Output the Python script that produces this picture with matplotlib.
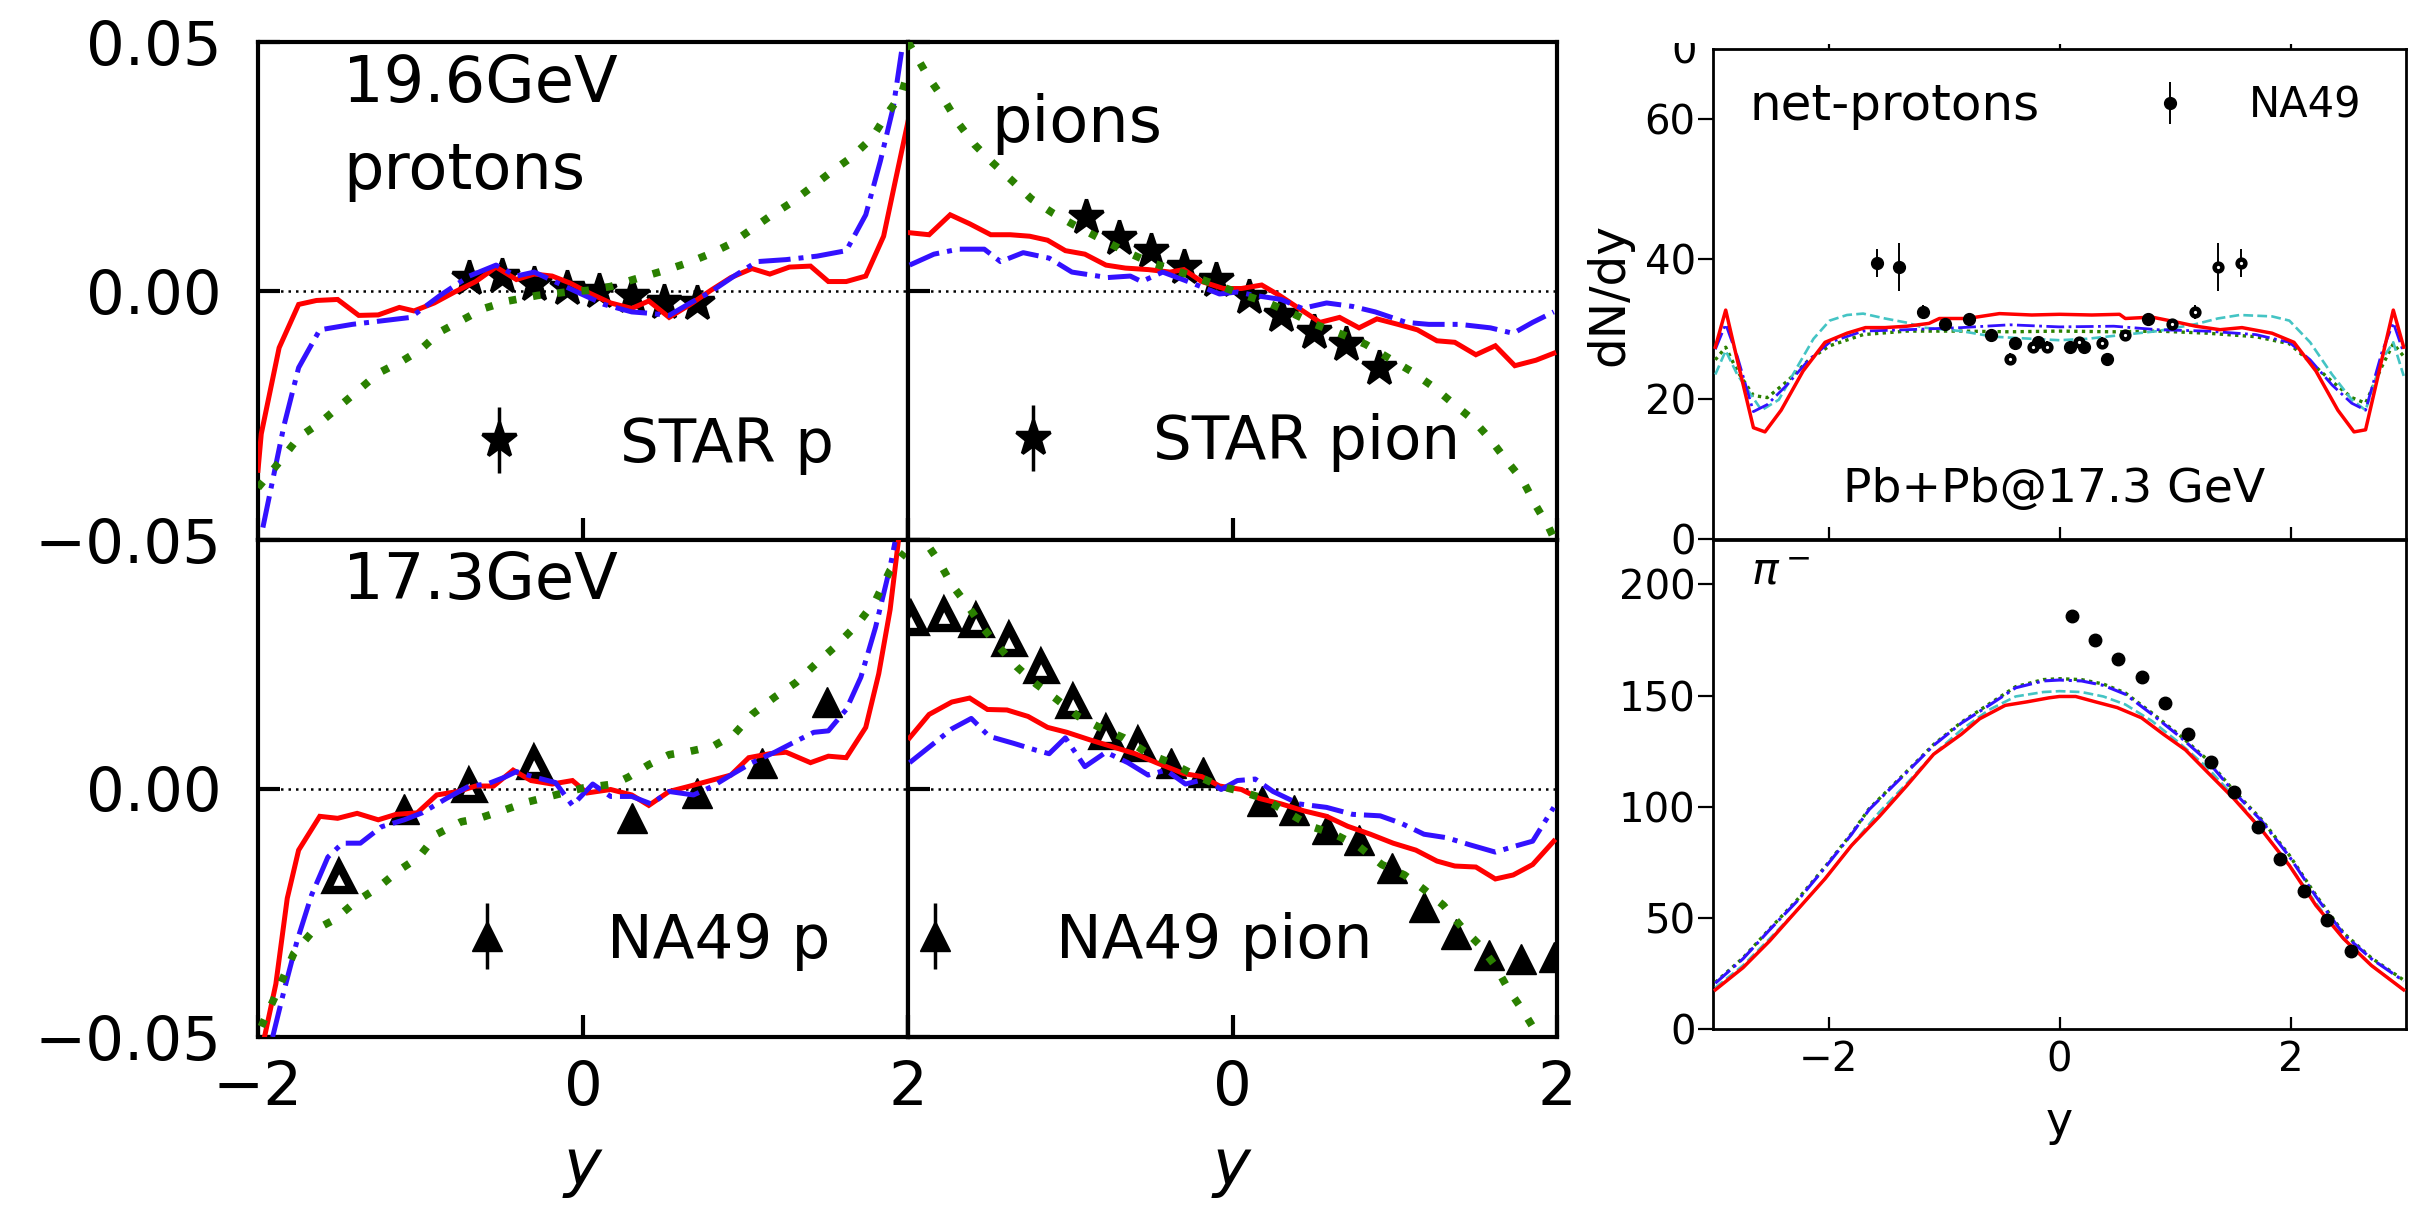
import matplotlib
matplotlib.use("Agg")
import matplotlib.pyplot as plt
from matplotlib.container import ErrorbarContainer
from matplotlib.legend_handler import HandlerErrorbar
from matplotlib.transforms import Bbox, TransformedBbox

plt.rcParams['font.family'] = ['DejaVu Sans']
plt.rcParams['mathtext.fontset'] = 'dejavusans'

# ---------------- data: left group (19.6 GeV protons) ----------------
tl_red_x = [-2.0, -1.98, -1.87, -1.75, -1.64, -1.51, -1.38, -1.26, -1.13, -1.04, -0.915, -0.79, -0.66, -0.535, -0.41,
            -0.30, -0.19, -0.08, 0.025, 0.17, 0.30, 0.405, 0.53, 0.66, 0.785, 0.91, 1.04, 1.15, 1.27, 1.40,
            1.51, 1.62, 1.74, 1.85, 1.92, 2.0]
tl_red_v = [-0.036, -0.0287, -0.0114, -0.0027, -0.0019, -0.0017, -0.0049, -0.0048, -0.0033, -0.0040, -0.0024, -0.0002,
            0.0019, 0.0048, 0.0023, 0.0034, 0.0030, 0.0016, -0.0002, -0.0024, -0.0035, -0.0020, -0.0053, -0.0027,
            0.0001, 0.0027, 0.0045, 0.0034, 0.0048, 0.0050, 0.0019, 0.0019, 0.0030, 0.0110, 0.0218, 0.0340]
tl_blue_x = [-1.97, -1.84, -1.75, -1.62, -1.42, -1.24, -1.06, -0.88, -0.70, -0.535, -0.41, -0.30, -0.155, -0.01,
             0.13, 0.30, 0.42, 0.53, 0.66, 0.785, 0.93, 1.07, 1.25, 1.44, 1.62, 1.74, 1.83, 1.91, 1.96]
tl_blue_v = [-0.0475, -0.027, -0.0154, -0.0078, -0.0067, -0.0060, -0.0053, -0.0009, 0.0030, 0.0052, 0.0030, 0.0038,
             0.0016, -0.0006, -0.0027, -0.0042, -0.0045, -0.0049, -0.0024, -0.0002, 0.0030, 0.0059, 0.0063, 0.0070,
             0.0081, 0.0153, 0.0261, 0.0370, 0.0480]
tl_green_x = [-2.0, -1.855, -1.75, -1.62, -1.49, -1.385, -1.26, -1.11, -1.0, -0.88, -0.73, -0.61, -0.46, -0.28, -0.10,
              0.025, 0.17, 0.31, 0.50, 0.64, 0.785, 0.91, 1.02, 1.15, 1.27, 1.40, 1.53, 1.65, 1.78, 1.87, 1.96, 2.0]
tl_green_v = [-0.0395, -0.0338, -0.0294, -0.0265, -0.0229, -0.0200, -0.0165, -0.0140, -0.0118, -0.0082, -0.0056,
              -0.0035, -0.0020, -0.0009, -0.0002, 0.0001, 0.0009, 0.0023, 0.0041, 0.0056, 0.0075, 0.0095, 0.0120,
              0.0150, 0.0175, 0.0207, 0.0240, 0.0268, 0.0308, 0.0355, 0.0395, 0.0440]
star_p_x = [-0.7, -0.5, -0.3, -0.1, 0.1, 0.3, 0.5, 0.7]
star_p_v = [0.0027, 0.0031, 0.0014, 0.0007, 0.0000, -0.0010, -0.0023, -0.0024]
star_p_e = [0.0005] * 8

# ---------------- 19.6 GeV pions ----------------
tr_red_x = [-1.99, -1.87, -1.74, -1.62, -1.49, -1.37, -1.25, -1.14, -1.03, -0.91, -0.78, -0.66, -0.52, -0.385, -0.30,
            -0.19, -0.055, 0.055, 0.18, 0.29, 0.41, 0.54, 0.66, 0.78, 0.89, 1.02, 1.14, 1.26, 1.37, 1.50,
            1.62, 1.74, 1.87, 1.98]
tr_red_v = [0.0117, 0.0113, 0.0153, 0.0135, 0.0113, 0.0113, 0.0110, 0.0102, 0.0081, 0.0074, 0.0052, 0.0046, 0.0043,
            0.0038, 0.0043, 0.0019, 0.0005, 0.0005, 0.0012, -0.0009, -0.0035, -0.0063, -0.0053, -0.0074, -0.0056,
            -0.0067, -0.0078, -0.0100, -0.0103, -0.0128, -0.0110, -0.0150, -0.0139, -0.0125]
tr_blue_x = [-1.99, -1.84, -1.69, -1.53, -1.43, -1.29, -1.13, -0.99, -0.77, -0.63, -0.56, -0.43, -0.25, -0.08, 0.03,
             0.14, 0.30, 0.43, 0.58, 0.74, 0.88, 1.07, 1.21, 1.40, 1.59, 1.73, 1.85, 1.98]
tr_blue_v = [0.0052, 0.0074, 0.0084, 0.0084, 0.0059, 0.0077, 0.0066, 0.0038, 0.0027, 0.0030, 0.0019, 0.0038, 0.0016,
             -0.0006, -0.0002, -0.0009, -0.0017, -0.0035, -0.0024, -0.0031, -0.0042, -0.0063, -0.0067, -0.0067,
             -0.0074, -0.0085, -0.0063, -0.0042]
tr_green_x = [-2.0, -1.87, -1.77, -1.69, -1.59, -1.48, -1.36, -1.24, -1.11, -0.99, -0.82, -0.67, -0.52, -0.385, -0.25,
              -0.07, 0.08, 0.22, 0.37, 0.51, 0.69, 0.82, 0.97, 1.10, 1.24, 1.36, 1.48, 1.59, 1.69, 1.79, 1.87, 1.95, 2.0]
tr_green_v = [0.0500, 0.0427, 0.0380, 0.0337, 0.0294, 0.0258, 0.0222, 0.0185, 0.0157, 0.0135, 0.0106, 0.0081, 0.0059,
              0.0045, 0.0030, 0.0009, -0.0009, -0.0024, -0.0045, -0.0067, -0.0089, -0.0107, -0.0136, -0.0161,
              -0.0193, -0.0226, -0.0258, -0.0298, -0.0341, -0.0381, -0.0431, -0.0475, -0.0510]
star_pi_x = [-0.9, -0.7, -0.5, -0.3, -0.1, 0.1, 0.3, 0.5, 0.7, 0.9]
star_pi_v = [0.0149, 0.0106, 0.0081, 0.0048, 0.0023, -0.0013, -0.0049, -0.0082, -0.0107, -0.0154]
star_pi_e = [0.0005] * 10

# ---------------- 17.3 GeV protons ----------------
bl_red_x = [-1.96, -1.89, -1.82, -1.75, -1.62, -1.51, -1.39, -1.26, -1.15, -1.02, -0.90, -0.77, -0.66, -0.55, -0.43,
            -0.32, -0.19, -0.065, 0.025, 0.17, 0.30, 0.405, 0.53, 0.66, 0.785, 0.91, 1.02, 1.15, 1.25, 1.40,
            1.51, 1.62, 1.74, 1.82, 1.89, 1.94]
bl_red_v = [-0.0500, -0.0393, -0.0221, -0.0124, -0.0056, -0.0060, -0.0050, -0.0063, -0.0052, -0.0049, -0.0013,
            -0.0006, 0.0005, 0.0005, 0.0037, 0.0016, 0.0009, 0.0016, -0.0009, -0.0002, -0.0013, -0.0034, -0.0006,
            0.0005, 0.0016, 0.0027, 0.0062, 0.0070, 0.0073, 0.0052, 0.0065, 0.0062, 0.0123, 0.0231, 0.0360, 0.0496]
bl_blue_x = [-1.91, -1.84, -1.76, -1.67, -1.57, -1.48, -1.37, -1.24, -1.10, -0.99, -0.84, -0.70, -0.59, -0.48, -0.41,
             -0.30, -0.17, -0.065, 0.06, 0.17, 0.30, 0.42, 0.53, 0.68, 0.80, 0.91, 1.04, 1.18, 1.31, 1.42, 1.51,
             1.62, 1.71, 1.80, 1.89, 1.92]
bl_blue_v = [-0.0500, -0.0407, -0.0307, -0.0214, -0.0138, -0.0110, -0.0110, -0.0077, -0.0063, -0.0049, -0.0020,
             0.0005, 0.0009, 0.0023, 0.0034, 0.0023, 0.0012, -0.0034, 0.0009, -0.0016, -0.0016, -0.0031, -0.0006,
             -0.0013, 0.0005, 0.0027, 0.0052, 0.0073, 0.0095, 0.0113, 0.0116, 0.0159, 0.0224, 0.0324, 0.0446, 0.0496]
bl_green_x = [-1.98, -1.89, -1.78, -1.66, -1.53, -1.40, -1.26, -1.13, -1.01, -0.90, -0.75, -0.64, -0.50, -0.34, -0.17,
              0.0, 0.19, 0.28, 0.405, 0.53, 0.66, 0.80, 0.93, 1.04, 1.18, 1.31, 1.44, 1.56, 1.69, 1.80, 1.89, 1.98]
bl_green_v = [-0.0479, -0.0415, -0.0332, -0.0286, -0.0264, -0.0228, -0.0199, -0.0164, -0.0138, -0.0092, -0.0067,
              -0.0060, -0.0045, -0.0027, -0.0013, 0.0001, 0.0009, 0.0023, 0.0048, 0.0068, 0.0075, 0.0085, 0.0109,
              0.0149, 0.0184, 0.0213, 0.0253, 0.0288, 0.0331, 0.0378, 0.0439, 0.0475]
na49p_fill_x = [-1.1, 0.3, 0.7, 1.1, 1.5]
na49p_fill_v = [-0.0042, -0.0060, -0.0010, 0.0052, 0.0174]
na49p_fill_e = [0.0015, 0.0022, 0.0018, 0.0015, 0.0018]
na49p_open_x = [-1.5, -0.7, -0.3]
na49p_open_v = [-0.0178, 0.0005, 0.0052]
na49p_open_e = [0.0018, 0.0018, 0.0030]

# ---------------- 17.3 GeV pions ----------------
br_red_x = [-1.99, -1.87, -1.73, -1.62, -1.51, -1.39, -1.26, -1.14, -1.02, -0.88, -0.74, -0.60, -0.47, -0.30, -0.19,
            -0.08, 0.055, 0.165, 0.30, 0.44, 0.58, 0.71, 0.85, 0.99, 1.13, 1.26, 1.37, 1.50, 1.62, 1.73, 1.85, 1.98]
br_red_v = [0.0102, 0.0149, 0.0174, 0.0182, 0.0159, 0.0158, 0.0145, 0.0123, 0.0113, 0.0098, 0.0084, 0.0070, 0.0052,
            0.0030, 0.0024, 0.0005, -0.0002, -0.0020, -0.0031, -0.0045, -0.0056, -0.0076, -0.0092, -0.0110, -0.0124,
            -0.0146, -0.0156, -0.0158, -0.0182, -0.0174, -0.0153, -0.0106]
br_blue_x = [-1.99, -1.84, -1.73, -1.61, -1.50, -1.35, -1.21, -1.13, -1.03, -0.91, -0.78, -0.645, -0.52, -0.41, -0.29,
             -0.165, -0.07, 0.03, 0.14, 0.25, 0.41, 0.58, 0.74, 0.91, 1.04, 1.18, 1.32, 1.46, 1.62, 1.73, 1.85, 1.98]
br_blue_v = [0.0052, 0.0091, 0.0120, 0.0141, 0.0105, 0.0091, 0.0077, 0.0070, 0.0102, 0.0044, 0.0073, 0.0052, 0.0027,
             0.0037, 0.0009, 0.0019, -0.0002, 0.0016, 0.0019, -0.0006, -0.0031, -0.0038, -0.0052, -0.0055, -0.0070,
             -0.0092, -0.0099, -0.0113, -0.0128, -0.0117, -0.0106, -0.0038]
br_green_x = [-2.0, -1.9, -1.81, -1.73, -1.63, -1.54, -1.44, -1.33, -1.21, -1.09, -0.95, -0.82, -0.67, -0.52, -0.385,
              -0.23, -0.08, 0.055, 0.19, 0.36, 0.49, 0.63, 0.78, 0.92, 1.06, 1.18, 1.30, 1.41, 1.52, 1.62, 1.70,
              1.79, 1.87, 1.95]
br_green_v = [0.0570, 0.0500, 0.0457, 0.0410, 0.0367, 0.0324, 0.0285, 0.0245, 0.0210, 0.0181, 0.0145, 0.0123, 0.0102,
              0.0070, 0.0052, 0.0027, 0.0005, -0.0006, -0.0020, -0.0052, -0.0077, -0.0092, -0.0117, -0.0153, -0.0174,
              -0.0203, -0.0235, -0.0278, -0.0314, -0.0357, -0.0404, -0.0447, -0.0490, -0.0530]
na49pi_fill_x = [-0.38, -0.18, 0.18, 0.38, 0.58, 0.78, 0.98, 1.18, 1.38, 1.58, 1.78, 1.98]
na49pi_fill_v = [0.0051, 0.0034, -0.0026, -0.0043, -0.0081, -0.0103, -0.0160, -0.0239, -0.0293, -0.0336, -0.0343,
                 -0.0340]
na49pi_fill_e = [0.0008] * 12
na49pi_open_x = [-1.98, -1.78, -1.58, -1.38, -1.18, -0.98, -0.78, -0.58]
na49pi_open_v = [0.0341, 0.0349, 0.0338, 0.0299, 0.0245, 0.0174, 0.0112, 0.0088]
na49pi_open_e = [0.0010] * 8

# ---------------- right group: net-protons Pb+Pb 17.3 GeV ----------------
np_x = [-2.98, -2.89, -2.79, -2.65, -2.55, -2.41, -2.22, -2.03, -1.84, -1.68, -1.51, -1.32, -1.13, -1.04, -0.80,
        -0.52, -0.24, 0.0, 0.28, 0.52, 0.57, 0.80, 1.04, 1.18, 1.39, 1.58, 1.84, 2.03, 2.22, 2.41, 2.55, 2.65,
        2.79, 2.89, 2.98]
np_red = [27.4, 32.7, 25.6, 15.9, 15.3, 18.4, 24.0, 28.1, 29.4, 30.2, 30.2, 30.4, 30.8, 31.5, 31.5, 32.2, 32.0, 32.1,
          32.0, 32.1, 31.5, 31.7, 30.9, 30.4, 29.9, 30.2, 29.4, 28.1, 24.0, 18.4, 15.3, 15.6, 25.6, 32.7, 27.4]
np2_x = [-2.98, -2.89, -2.79, -2.65, -2.53, -2.36, -2.17, -1.99, -1.70, -1.32, -0.85, -0.43, 0.0, 0.47, 0.85, 1.28,
         1.70, 1.99, 2.17, 2.36, 2.53, 2.65, 2.79, 2.89, 2.98]
np_blue = [27.1, 30.7, 26.1, 18.2, 19.2, 22.0, 25.6, 28.1, 29.7, 29.9, 30.2, 30.6, 30.3, 30.4, 29.9, 29.7, 29.2, 28.1,
           25.6, 22.0, 19.4, 18.4, 26.6, 30.9, 26.6]
np_green = [25.6, 27.4, 24.0, 20.5, 20.2, 22.5, 25.6, 27.6, 29.2, 29.7, 29.7, 29.6, 29.7, 29.6, 29.7, 29.4, 28.9, 27.9,
            25.3, 22.5, 20.2, 19.4, 24.6, 27.9, 26.1]
np3_x = [-2.98, -2.89, -2.79, -2.58, -2.43, -2.27, -2.13, -1.99, -1.84, -1.70, -1.51, -1.32, -1.18, -0.85, -0.57,
         -0.24, 0.0, 0.24, 0.57, 0.85, 1.18, 1.37, 1.56, 1.84, 1.99, 2.17, 2.36, 2.53, 2.65, 2.79, 2.89, 2.98]
np_cyan = [23.5, 26.9, 23.5, 18.4, 19.9, 24.6, 28.6, 31.2, 32.0, 32.2, 31.5, 30.9, 30.2, 29.7, 28.9, 28.6, 28.4, 28.6,
           29.2, 29.7, 30.7, 31.5, 32.0, 31.8, 31.2, 28.1, 23.5, 19.9, 18.4, 25.6, 28.1, 23.3]
np_data_fill_x = [-1.58, -1.39, -1.18, -0.99, -0.78, -0.59, -0.385, -0.19, 0.09, 0.21, 0.41, 0.77]
np_data_fill_v = [39.4, 38.9, 32.4, 30.7, 31.4, 29.1, 28.0, 28.2, 27.5, 27.5, 25.7, 31.4]
np_data_fill_e = [2.0, 3.4, 1.0, 0.6, 0.8, 0.7, 0.8, 0.7, 0.8, 0.8, 0.9, 0.8]
np_data_open_x = [-0.43, -0.23, -0.105, 0.17, 0.37, 0.57, 0.97, 1.17, 1.37, 1.57]
np_data_open_v = [25.7, 27.5, 27.5, 28.2, 28.0, 29.1, 30.7, 32.4, 38.9, 39.4]
np_data_open_e = [0.9, 0.8, 0.8, 0.7, 0.8, 0.7, 0.6, 1.0, 3.4, 2.0]

# ---------------- right group: pi- ----------------
pim_x = [-2.98, -2.74, -2.51, -2.27, -2.03, -1.80, -1.56, -1.32, -1.09, -0.85, -0.69, -0.47, -0.28, -0.09, 0.0, 0.14,
         0.31, 0.50, 0.71, 0.90, 1.09, 1.28, 1.51, 1.75, 1.99, 2.22, 2.46, 2.70, 2.98]
pim_red = [17.6, 27.6, 39.6, 53.6, 67.6, 82.6, 95.6, 109.6, 123.6, 132.6, 139.6, 145.6, 147.2, 149.0, 149.6, 149.6,
           147.2, 144.6, 140.0, 132.6, 125.6, 115.6, 103.6, 89.6, 73.6, 55.6, 40.6, 28.6, 17.6]
pim2_x = [-2.98, -2.74, -2.51, -2.27, -2.03, -1.80, -1.65, -1.32, -1.09, -0.85, -0.61, -0.38, -0.14, 0.0, 0.19, 0.38,
          0.57, 0.80, 1.04, 1.28, 1.51, 1.75, 1.99, 2.22, 2.46, 2.70, 2.98]
pim_blue = [20.6, 31.6, 44.6, 57.6, 72.6, 87.6, 98.6, 115.6, 127.6, 137.6, 145.6, 153.5, 156.6, 157.0, 156.6, 154.6,
            150.6, 141.6, 131.6, 120.6, 106.6, 93.6, 77.6, 59.6, 42.6, 31.6, 21.6]
pim_green = [21.0, 32.0, 45.0, 58.2, 73.0, 88.0, 99.0, 116.0, 128.0, 138.0, 146.2, 154.0, 157.2, 157.6, 157.2, 155.2,
             151.2, 142.2, 132.2, 121.2, 107.2, 94.2, 78.2, 60.2, 43.2, 32.0, 22.0]
pim3_x = [-2.98, -2.74, -2.51, -2.27, -2.03, -1.80, -1.56, -1.32, -1.09, -0.85, -0.61, -0.38, -0.14, 0.0, 0.19, 0.38,
          0.57, 0.80, 1.04, 1.28, 1.51, 1.75, 1.99, 2.22, 2.46, 2.70, 2.98]
pim_cyan = [18.6, 28.6, 40.6, 53.6, 67.6, 82.6, 97.6, 110.6, 123.6, 134.6, 143.6, 149.6, 151.6, 152.0, 151.6, 149.6,
            146.0, 138.6, 128.6, 117.6, 104.6, 89.6, 73.6, 56.6, 40.6, 28.6, 17.6]
pim_data_x = [0.11, 0.31, 0.51, 0.71, 0.91, 1.11, 1.31, 1.51, 1.72, 1.91, 2.12, 2.32, 2.52]
pim_data_v = [185.6, 175.2, 166.4, 158.4, 146.6, 132.6, 120.0, 106.6, 91.0, 76.6, 62.0, 49.2, 35.2]

left_yticks = [-0.05, 0.0, 0.05]
left_xticks = [-2, 0, 2]
np_yticks = [0, 20, 40, 60]
pim_yticks = [0, 50, 100, 150, 200]
right_xticks = [-2, 0, 2]

# ---------------- styles ----------------
RED = '#ff0000'
BLUE = '#3311ff'
GREEN = '#2a8000'
CYAN = '#44c4c4'

W, H = 2433, 1215
fig = plt.figure(figsize=(W / 100, H / 100), dpi=100)


def fax(x0, y0, x1, y1):
    return fig.add_axes([x0 / W, 1 - y1 / H, (x1 - x0) / W, (y1 - y0) / H])


ax_tl = fax(258, 42, 908, 540)
ax_tr = fax(908, 42, 1557, 540)
ax_bl = fax(258, 540, 908, 1037)
ax_br = fax(908, 540, 1557, 1037)

FS = 44


def draw_left(ax, red, blue, green):
    ax.plot(red[0], red[1], color=RED, lw=3.6, zorder=3, solid_joinstyle='miter')
    ax.plot(blue[0], blue[1], color=BLUE, lw=3.6, ls='-.', zorder=4)
    ax.plot(green[0], green[1], color=GREEN, lw=5.5, ls=(0, (1, 2.2)), zorder=5)
    ax.axhline(0, color='black', lw=1.8, ls=(0, (1, 2)), zorder=1)
    ax.set_xlim(-2, 2)
    ax.set_ylim(-0.05, 0.05)
    ax.set_xticks(left_xticks)
    ax.set_yticks(left_yticks)
    ax.tick_params(direction='in', length=16, width=3, labelsize=FS)
    ax.tick_params(axis='x', pad=16)
    ax.tick_params(axis='y', pad=26)
    for s in ax.spines.values():
        s.set_linewidth(3)


def add_legend(ax, cont, label, ax_x, ax_y, fs, yerr_size=0.54, pad=0.97):
    ax.legend([cont], [label], loc='center left', bbox_to_anchor=(ax_x, ax_y), frameon=False, fontsize=fs,
              handlelength=2, handletextpad=pad, borderpad=0, borderaxespad=0,
              handler_map={ErrorbarContainer: HandlerErrorbar(yerr_size=yerr_size)})


STAR_KW = dict(fmt='*', color='black', mec='black', ms=26, mew=2.5, elinewidth=2.5, capsize=0, zorder=2)
TRI_KW = dict(fmt='^', color='black', ms=22, elinewidth=2.5, capsize=0, zorder=2)
OTRI_KW = dict(fmt='^', color='black', mfc='white', mec='black', mew=6, ms=18, elinewidth=2.5, capsize=0, zorder=2)

draw_left(ax_tl, (tl_red_x, tl_red_v), (tl_blue_x, tl_blue_v), (tl_green_x, tl_green_v))
c = ax_tl.errorbar(star_p_x, star_p_v, yerr=star_p_e, **STAR_KW)
add_legend(ax_tl, c, 'STAR p', 0.277, 0.19, FS)
ax_tl.text(0.131, 0.88, '19.6GeV', transform=ax_tl.transAxes, fontsize=46, va='baseline')
ax_tl.text(0.131, 0.705, 'protons', transform=ax_tl.transAxes, fontsize=46, va='baseline')
ax_tl.set_yticklabels(['\u22120.05', '0.00', '0.05'])
ax_tl.tick_params(labelbottom=False)

draw_left(ax_tr, (tr_red_x, tr_red_v), (tr_blue_x, tr_blue_v), (tr_green_x, tr_green_v))
c = ax_tr.errorbar(star_pi_x, star_pi_v, yerr=star_pi_e, **STAR_KW)
add_legend(ax_tr, c, 'STAR pion', 0.098, 0.195, FS)
ax_tr.text(0.129, 0.80, 'pions', transform=ax_tr.transAxes, fontsize=46, va='baseline')
ax_tr.tick_params(labelbottom=False, labelleft=False)

draw_left(ax_bl, (bl_red_x, bl_red_v), (bl_blue_x, bl_blue_v), (bl_green_x, bl_green_v))
c = ax_bl.errorbar(na49p_fill_x, na49p_fill_v, yerr=na49p_fill_e, **TRI_KW)
ax_bl.errorbar(na49p_open_x, na49p_open_v, yerr=na49p_open_e, **OTRI_KW)
add_legend(ax_bl, c, 'NA49 p', 0.258, 0.193, FS)
ax_bl.text(0.131, 0.881, '17.3GeV', transform=ax_bl.transAxes, fontsize=46, va='baseline')
ax_bl.set_yticklabels(['\u22120.05', '0.00', ''])
ax_bl.set_xticklabels(['\u22122', '0', '2'])
ax_bl.set_xlabel('$y$', fontsize=46, labelpad=14)

draw_left(ax_br, (br_red_x, br_red_v), (br_blue_x, br_blue_v), (br_green_x, br_green_v))
c = ax_br.errorbar(na49pi_fill_x, na49pi_fill_v, yerr=na49pi_fill_e, **TRI_KW)
ax_br.errorbar(na49pi_open_x, na49pi_open_v, yerr=na49pi_open_e, **OTRI_KW)
add_legend(ax_br, c, 'NA49 pion', -0.052, 0.193, FS)
ax_br.set_xticklabels(['', '0', '2'])
ax_br.tick_params(labelleft=False)
ax_br.set_xlabel('$y$', fontsize=46, labelpad=14)

# ---------------- right group ----------------
ax_np = fax(1713, 49, 2406, 539)
ax_pi = fax(1713, 540, 2406, 1029)
RFS = 29


def style_right(ax):
    ax.set_xlim(-3, 3)
    ax.set_xticks(right_xticks)
    ax.tick_params(axis='x', direction='in', length=9, width=1.6, labelsize=RFS, pad=8)
    ax.tick_params(axis='y', direction='out', length=10.5, width=1.6, labelsize=RFS, pad=2)
    for s in ax.spines.values():
        s.set_linewidth(2)


ax_np.plot(np2_x, np_green, color=GREEN, lw=2.4, ls=(0, (1, 1.3)), zorder=3)
ax_np.plot(np3_x, np_cyan, color=CYAN, lw=1.9, ls='--', zorder=4)
ax_np.plot(np2_x, np_blue, color=BLUE, lw=2.0, ls='-.', zorder=5)
ax_np.plot(np_x, np_red, color=RED, lw=2.5, zorder=6)
c = ax_np.errorbar(np_data_fill_x, np_data_fill_v, yerr=np_data_fill_e, fmt='o', color='black', ms=8.5,
                   elinewidth=1.4, capsize=0, zorder=7)
ax_np.errorbar(np_data_open_x, np_data_open_v, yerr=np_data_open_e, fmt='o', color='black', mfc='white', mec='black',
               mew=3.2, ms=5.6, elinewidth=1.4, capsize=0, zorder=7)
ax_np.set_ylim(0, 70)
ax_np.set_yticks(np_yticks)
style_right(ax_np)
ax_np.tick_params(labelbottom=False)
ax_np.set_ylabel('dN/dy', fontsize=35, labelpad=8)
ax_np.text(0.052, 0.855, 'net-protons', transform=ax_np.transAxes, fontsize=36, va='baseline')
ax_np.text(0.492, 0.0755, 'Pb+Pb@17.3 GeV', transform=ax_np.transAxes, fontsize=34, va='baseline', ha='center')
add_legend(ax_np, c, 'NA49', 0.599, 0.884, 30, yerr_size=0.5, pad=0.9)
sec = ax_np.secondary_xaxis('top')
sec.set_xticks(right_xticks)
sec.tick_params(direction='out', length=3.5, width=1.6, labeltop=False)
sec.spines['top'].set_visible(False)

ax_pi.plot(pim2_x, pim_green, color=GREEN, lw=2.4, ls=(0, (1, 1.3)), zorder=3)
ax_pi.plot(pim3_x, pim_cyan, color=CYAN, lw=1.9, ls='--', zorder=4)
ax_pi.plot(pim2_x, pim_blue, color=BLUE, lw=2.2, ls='-.', zorder=5)
ax_pi.plot(pim_x, pim_red, color=RED, lw=2.5, zorder=6)
ax_pi.plot(pim_data_x, pim_data_v, 'o', color='black', ms=9, zorder=7)
ax_pi.set_ylim(0, 220)
ax_pi.set_yticks(pim_yticks)
style_right(ax_pi)
ax_pi.set_xticklabels(['\u22122', '0', '2'])
ax_pi.set_xlabel('y', fontsize=33, labelpad=14)
ax_pi.text(0.055, 0.91, r'$\pi^-$', transform=ax_pi.transAxes, fontsize=32, va='baseline')

# partially hidden tick label of the panel above (cropped figure)
t = fig.text(1697 / W, 1 - 64 / H, '0', fontsize=RFS, ha='right', va='baseline')
t.set_clip_box(TransformedBbox(Bbox([[0, 0], [1, 1 - 43 / H]]), fig.transFigure))
t.set_clip_on(True)

fig.savefig('out.png', dpi=100)
